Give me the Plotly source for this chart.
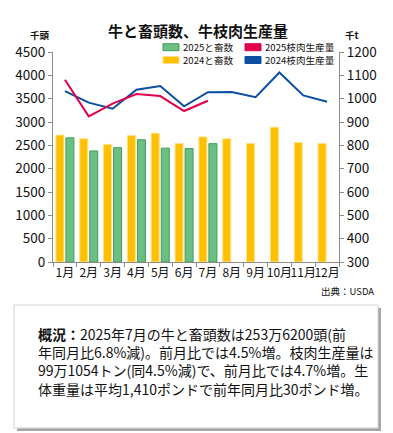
import plotly.graph_objects as go

months = ['1月', '2月', '3月', '4月', '5月', '6月', '7月', '8月', '9月', '10月', '11月', '12月']
head_2024 = [2720, 2640, 2520, 2710, 2760, 2540, 2680, 2640, 2540, 2890, 2560, 2540]
head_2025 = [2660, 2380, 2450, 2620, 2440, 2430, 2536]
beef_2024 = [1032, 983, 957, 1038, 1054, 967, 1028, 1029, 1006, 1112, 1014, 987]
beef_2025 = [1081, 924, 979, 1020, 1011, 947, 991]

FONT = "Noto Sans CJK JP"
W, H = 393, 433
L, R, T, B = 53, 339, 52, 262  # plot area in pixels


def px(xp):
    return (xp - L) / (R - L)


def py(yp):
    return (B - yp) / (B - T)


C_ORANGE = "#FFC000"
C_ORANGE_EDGE = "#FFE08A"
C_GREEN = "#6CBF82"
C_GREEN_EDGE = "#3E9E5C"
C_RED = "#E0004D"
C_BLUE = "#0B4EA2"

fig = go.Figure()
fig.add_trace(go.Bar(x=months, y=head_2024, name="2024と畜数",
                     marker=dict(color=C_ORANGE, line=dict(color=C_ORANGE_EDGE, width=1)),
                     showlegend=False))
fig.add_trace(go.Bar(x=months[:len(head_2025)], y=head_2025, name="2025と畜数",
                     marker=dict(color=C_GREEN, line=dict(color=C_GREEN_EDGE, width=1)),
                     showlegend=False))
fig.add_trace(go.Scatter(x=months, y=beef_2024, name="2024枝肉生産量", yaxis="y2",
                         mode="lines", line=dict(color=C_BLUE, width=2), showlegend=False))
fig.add_trace(go.Scatter(x=months[:len(beef_2025)], y=beef_2025, name="2025枝肉生産量", yaxis="y2",
                         mode="lines", line=dict(color=C_RED, width=2), showlegend=False))

axis_common = dict(showgrid=False, zeroline=False, showline=True, linecolor="#8c8c8c",
                   linewidth=1, ticks="outside", ticklen=4, tickcolor="#8c8c8c",
                   tickfont=dict(family=FONT, size=13.5, color="#111"))

shapes = []
annotations = []

# legend (manual, rectangular swatches)
legend_items = [
    ("2025と畜数", C_GREEN, C_GREEN_EDGE, 163, 47.2),
    ("2024と畜数", C_ORANGE, C_ORANGE_EDGE, 163, 60),
    ("2025枝肉生産量", C_RED, C_RED, 245, 47.2),
    ("2024枝肉生産量", C_BLUE, C_BLUE, 245, 60),
]
for label, fill, edge, x0, yc in legend_items:
    shapes.append(dict(type="rect", xref="paper", yref="paper",
                       x0=px(x0), x1=px(x0 + 16), y0=py(yc + 3.5), y1=py(yc - 3.5),
                       fillcolor=fill, line=dict(color=edge, width=1), layer="above"))
    annotations.append(dict(text=label, xref="paper", yref="paper", x=px(x0 + 19), y=py(yc),
                            xanchor="left", yanchor="middle", showarrow=False, borderpad=0,
                            font=dict(family=FONT, size=9.6, color="#111")))

# title and axis units
annotations.append(dict(text="<b>牛と畜頭数、牛枝肉生産量</b>", xref="paper", yref="paper",
                        x=px(198), y=py(30.5), xanchor="center", yanchor="middle", showarrow=False,
                        borderpad=0, font=dict(family=FONT, size=15, color="#111")))
annotations.append(dict(text="<b>千頭</b>", xref="paper", yref="paper", x=px(40), y=py(35),
                        xanchor="center", yanchor="middle", showarrow=False,
                        font=dict(family=FONT, size=9.5, color="#111")))
annotations.append(dict(text="<b>千t</b>", xref="paper", yref="paper", x=px(352), y=py(35),
                        xanchor="center", yanchor="middle", showarrow=False,
                        font=dict(family=FONT, size=9.5, color="#111")))
annotations.append(dict(text="出典：USDA", xref="paper", yref="paper", x=px(376), y=py(291),
                        xanchor="right", yanchor="middle", showarrow=False,
                        font=dict(family=FONT, size=9.5, color="#111")))

# summary box with shadow
shapes.append(dict(type="rect", xref="paper", yref="paper",
                   x0=px(17), x1=px(381), y0=py(431), y1=py(308),
                   fillcolor="rgba(0,0,0,0.35)", line=dict(width=0), layer="above"))
shapes.append(dict(type="rect", xref="paper", yref="paper",
                   x0=px(14), x1=px(378), y0=py(428), y1=py(305),
                   fillcolor="white", line=dict(color="#d4d4d4", width=1), layer="above"))
summary = ("<b>概況：</b>2025年7月の牛と畜頭数は253万6200頭(前<br>"
           "年同月比6.8%減)。前月比では4.5%増。枝肉生産量は<br>"
           "99万1054トン(同4.5%減)で、前月比では4.7%増。生<br>"
           "体重量は平均1,410ポンドで前年同月比30ポンド増。")
annotations.append(dict(text=summary, xref="paper", yref="paper", x=px(36), y=py(361),
                        xanchor="left", yanchor="middle", align="left", showarrow=False,
                        font=dict(family=FONT, size=14, color="#111")))

fig.update_layout(
    width=W, height=H,
    margin=dict(l=L, r=W - R, t=T, b=H - B, pad=0),
    paper_bgcolor="white", plot_bgcolor="white",
    barmode="group", bargap=0.16, bargroupgap=0.2,
    showlegend=False,
    xaxis=dict(axis_common, type="category", tickson="boundaries", tickangle=0,
               tickfont=dict(family=FONT, size=12, color="#111"), showline=True, mirror=False),
    yaxis=dict(axis_common, range=[0, 4500], dtick=500, tick0=0),
    yaxis2=dict(axis_common, range=[300, 1200], dtick=100, tick0=300, overlaying="y", side="right"),
    shapes=shapes,
    annotations=annotations,
)

fig.write_html("out.html", config={"displayModeBar": False},
               post_script="document.body.style.margin='0';")
